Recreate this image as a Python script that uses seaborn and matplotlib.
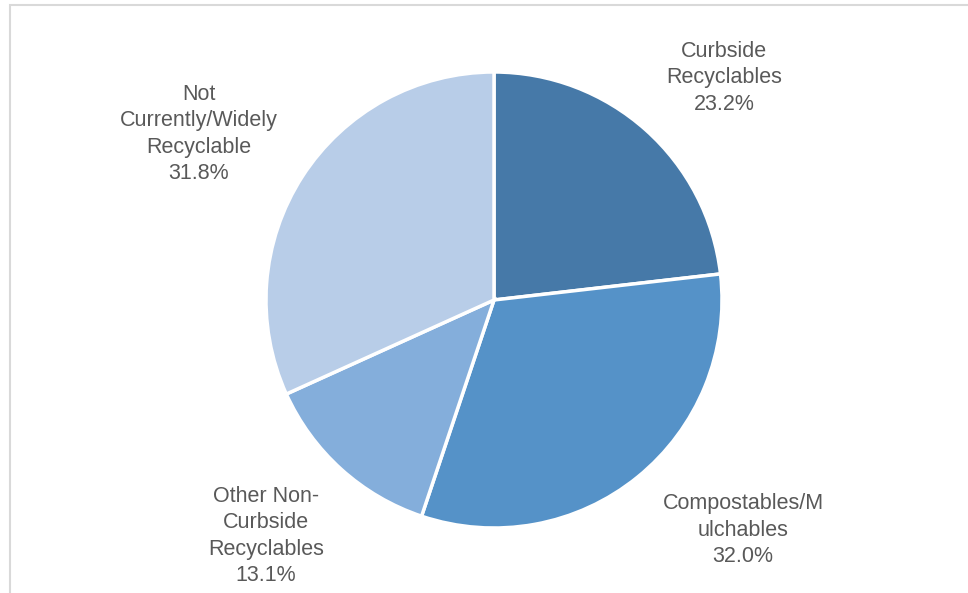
import matplotlib
matplotlib.use("Agg")
import matplotlib.pyplot as plt
import seaborn as sns
from matplotlib.patches import Rectangle

categories = ["Curbside\nRecyclables", "Compostables/M\nulchables",
              "Other Non-\nCurbside\nRecyclables", "Not\nCurrently/Widely\nRecyclable"]
values = [23.2, 32.0, 13.1, 31.8]
colors = ["#4679A8", "#5592C8", "#84AEDB", "#B8CDE8"]
label_pos = [(724, 78), (743, 530), (266, 536), (199, 134)]

sns.set_theme(style="white")
plt.rcParams['font.family'] = ['Liberation Sans', 'DejaVu Sans']

fig = plt.figure(figsize=(9.68, 5.93), dpi=100)
ax = fig.add_axes([0, 0, 1, 1])

pal = sns.color_palette(colors)
ax.pie(values, colors=pal, startangle=90, counterclock=False,
       center=(494, 593 - 300), radius=228,
       wedgeprops=dict(edgecolor='white', linewidth=2.5), frame=True)
ax.set_xlim(0, 968)
ax.set_ylim(0, 593)
ax.set_aspect('equal')
ax.axis('off')

for cat, v, (x, y) in zip(categories, values, label_pos):
    ax.text(x, 593 - y, f"{cat}\n{v:.1f}%", ha='center', va='center',
            fontsize=15.5, color='#595959', linespacing=1.33)

fig.patches.append(Rectangle((10 / 968, -0.1), 1.2, (593 - 5) / 593 + 0.1,
                             transform=fig.transFigure, fill=False,
                             edgecolor='#D9D9D9', linewidth=1.5))

fig.savefig("out.png", dpi=100)
